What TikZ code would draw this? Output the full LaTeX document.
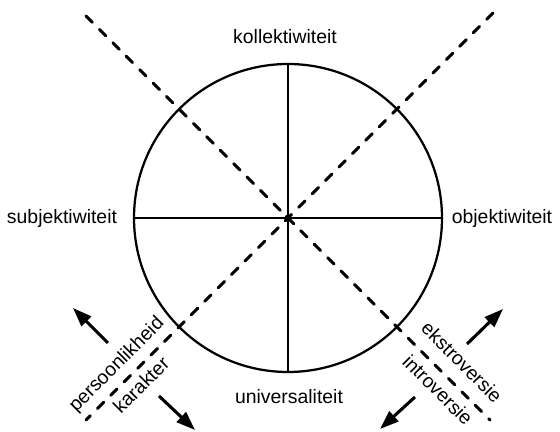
\documentclass[tikz,border=0pt]{standalone}
\usepackage{fontspec}
\setmainfont{Liberation Sans}
\usetikzlibrary{arrows.meta}
\begin{document}
\begin{tikzpicture}[x=0.025cm,y=-0.025cm,
	lbl/.style={font=\fontsize{13.8}{16}\selectfont,inner sep=0pt},
	dashline/.style={line width=2.2pt,dash pattern=on 6.4pt off 7.1pt,line cap=round},
	pijl/.style={line width=2.2pt,-{Triangle[length=13.5pt,width=9.5pt]}}]
			\useasboundingbox (0,0) rectangle (560,432);
			\coordinate (c) at (288,218);
			\coordinate (n) at (288,64);
			\coordinate (s) at (288,372);
			\coordinate (w) at (134,218);
			\coordinate (o) at (442,218);
			\draw[line width=1.6pt] (c) circle (154);
			\foreach \p in {n,s,w,o}
			\draw[line width=2pt] (c) -- (\p);
			\coordinate (lb) at (86,16);
			\coordinate (ro) at (490,420);
			\coordinate (rb) at (493,13);
			\coordinate (lo) at (86,420);
			\draw[dashline] (lb) -- (ro);
			\draw[dashline] (rb) -- (lo);
			\fill (c) circle (3.5);
			\node[lbl] (kol) at (285,37) {kollektiwiteit};
			\node[lbl] (sub) at (62,218) {subjektiwiteit};
			\node[lbl] (obj) at (502,218) {objektiwiteit};
			\node[lbl] (uni) at (289,397) {universaliteit};
			\node[lbl,rotate=45] (per) at (117,365) {persoonlikheid};
			\node[lbl,rotate=45] (kar) at (141,385) {karakter};
			\node[lbl,rotate=-45] (eks) at (462,362) {ekstroversie};
			\node[lbl,rotate=-45] (int) at (438,390) {introversie};
			\coordinate (p1a) at (108,343);
			\coordinate (p1b) at (73,308);
			\coordinate (p2a) at (159,396);
			\coordinate (p2b) at (195,430);
			\coordinate (p3a) at (467,344);
			\coordinate (p3b) at (503,309);
			\coordinate (p4a) at (415,397);
			\coordinate (p4b) at (380,429);
			\foreach \a/\b in {p1a/p1b,p2a/p2b,p3a/p3b,p4a/p4b}
			\draw[pijl] (\a) -- (\b);
	\end{tikzpicture}
\end{document}
